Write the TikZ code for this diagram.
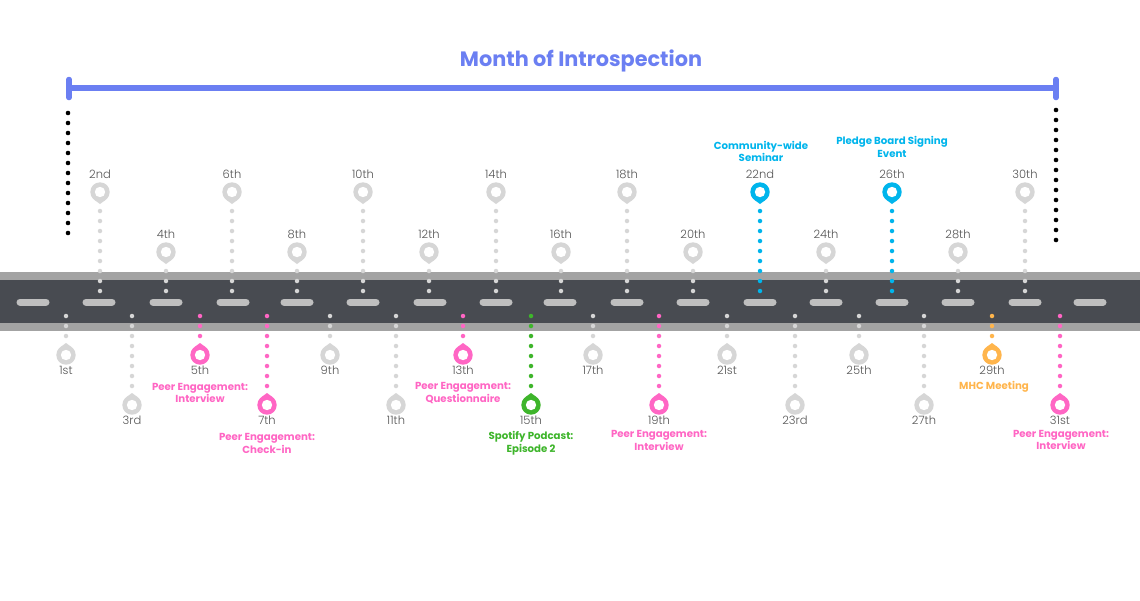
\documentclass[tikz,border=0pt]{standalone}
\usepackage{fontspec}
\setmainfont{Poppins}
\newfontfamily\lightf{Poppins Light}
\usetikzlibrary{calc}
\definecolor{titlecol}{HTML}{6B7FF2}
\definecolor{pinkc}{HTML}{FF66C4}
\definecolor{greenc}{HTML}{3EB52B}
\definecolor{bluec}{HTML}{00B5EC}
\definecolor{orangec}{HTML}{FFB54C}
\definecolor{grayc}{HTML}{D6D6D6}
\definecolor{roadc}{HTML}{484B51}
\definecolor{edgec}{HTML}{A3A3A3}
\definecolor{dashc}{HTML}{BFBFBF}
\definecolor{daytext}{HTML}{555555}
\tikzset{
  daylab/.style={font=\lightf\fontsize{11.5}{13}\selectfont, text=daytext, inner sep=0pt},
  notelab/.style={font=\bfseries\fontsize{10.2}{12.8}\selectfont, align=center, inner sep=0pt},
  dotline/.style={line width=4.5pt, line cap=round, dash pattern=on 0pt off 10pt},
  blackdots/.style={line width=4.6pt, line cap=round, dash pattern=on 0pt off 10pt, black},
  roaddash/.style={line width=7pt, line cap=round, dashc},
  pinD/.pic={\path[pic actions] (0,0) circle (9.7pt);
             \path[pic actions] (0,12) -- (5.7,7.8) -- (-5.7,7.8) -- cycle;
             \fill[white] (0,0) circle (5.2pt);},
  pinU/.pic={\path[pic actions] (0,0) circle (9.7pt);
             \path[pic actions] (0,-12) -- (5.7,-7.8) -- (-5.7,-7.8) -- cycle;
             \fill[white] (0,0) circle (5.2pt);}
}
\begin{document}
\begin{tikzpicture}[x=1pt,y=-1pt]
\useasboundingbox (0,0) rectangle (1140,600);
\fill[white] (0,0) rectangle (1140,600);

% title and bracket
\node[font=\bfseries\fontsize{20.8}{24}\selectfont, text=titlecol, inner sep=0pt] (title) at (581,61) {Month of Introspection};
\coordinate (bl) at (69,88);
\coordinate (br) at (1056,88);
\draw[titlecol, line width=6pt] (bl) -- (br);
\draw[titlecol, line width=5.5pt, line cap=round] ($(bl)+(0,-8.5)$) -- ($(bl)+(0,9.5)$);
\draw[titlecol, line width=5.5pt, line cap=round] ($(br)+(0,-8.5)$) -- ($(br)+(0,9.5)$);

% black dotted markers
\coordinate (ls) at (68,113);
\coordinate (le) at (68,233.5);
\coordinate (rs) at (1056,110);
\coordinate (re) at (1056,240.5);
\draw[blackdots] (ls) -- (le);
\draw[blackdots] (rs) -- (re);

% road
\fill[edgec] (0,272) rectangle (1140,331);
\fill[roadc] (0,280) rectangle (1140,323);
\foreach \cx in {33,99,166,233,297,363,430,496,560,627,693,760,826,892,958,1025,1090}
  \draw[roaddash] (\cx-13,302) -- (\cx+13,302);

% top pins (even days)
\foreach \n/\x/\py/\lab/\col in {2/100/192/2nd/grayc, 4/166/252/4th/grayc, 6/232/192/6th/grayc,
  8/297/252/8th/grayc, 10/363/192/10th/grayc, 12/429/252/12th/grayc, 14/496/192/14th/grayc,
  16/561/252/16th/grayc, 18/627/192/18th/grayc, 20/693/252/20th/grayc, 22/760/192/22nd/bluec,
  24/826/252/24th/grayc, 26/892/192/26th/bluec, 28/958/252/28th/grayc, 30/1025/192/30th/grayc}
{
  \coordinate (r\n) at (\x,291);
  \coordinate (p\n) at (\x,\py);
  \draw[dotline,\col] (r\n) -- ($(p\n)+(0,18.5)$);
  \pic[fill=\col] at (p\n) {pinD};
  \node[daylab] (l\n) at ($(p\n)+(0,-18)$) {\lab};
}

% bottom pins (odd days)
\foreach \n/\x/\py/\lab/\col in {1/66/355/1st/grayc, 3/132/405/3rd/grayc, 5/200/355/5th/pinkc,
  7/267/405/7th/pinkc, 9/330/355/9th/grayc, 11/396/405/11th/grayc, 13/463/355/13th/pinkc,
  15/531/405/15th/greenc, 17/593/355/17th/grayc, 19/659/405/19th/pinkc, 21/727/355/21st/grayc,
  23/795/405/23rd/grayc, 25/859/355/25th/grayc, 27/924/405/27th/grayc, 29/992/355/29th/orangec,
  31/1060/405/31st/pinkc}
{
  \coordinate (r\n) at (\x,316);
  \coordinate (p\n) at (\x,\py);
  \draw[dotline,\col] (r\n) -- ($(p\n)+(0,-18.5)$);
  \pic[fill=\col] at (p\n) {pinU};
  \node[daylab] (l\n) at ($(p\n)+(0,15)$) {\lab};
}

% event notes
\node[notelab, text=pinkc] (n5) at (200,393) {Peer Engagement:\\Interview};
\node[notelab, text=pinkc] (n7) at (267,443.5) {Peer Engagement:\\Check-in};
\node[notelab, text=pinkc] (n13) at (463,393) {Peer Engagement:\\Questionnaire};
\node[notelab, text=greenc] (n15) at (531,443.5) {Spotify Podcast:\\Episode 2};
\node[notelab, text=pinkc] (n19) at (659,440.5) {Peer Engagement:\\Interview};
\node[notelab, text=bluec] (n22) at (761,151.5) {Community-wide\\Seminar};
\node[notelab, text=bluec] (n26) at (892,147) {Pledge Board Signing\\Event};
\node[notelab, text=orangec] (n29) at (994,387) {MHC Meeting};
\node[notelab, text=pinkc] (n31) at (1061,440) {Peer Engagement:\\Interview};
\end{tikzpicture}
\end{document}
